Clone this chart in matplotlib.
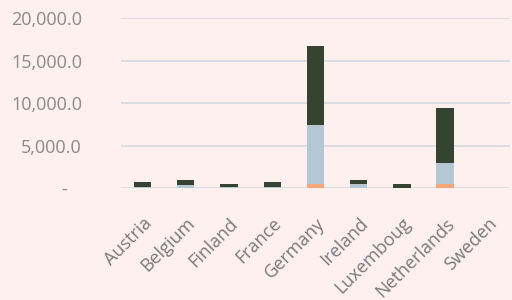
import matplotlib.pyplot as plt
import numpy as np
from matplotlib.ticker import FuncFormatter

countries = ['Austria', 'Belgium', 'Finland', 'France', 'Germany', 'Ireland',
             'Luxemboug', 'Netherlands', 'Sweden']
seg_orange = [20, 30, 20, 20, 500, 30, 20, 500, 0]
seg_blue = [60, 330, 130, 60, 6900, 420, 40, 2400, 0]
seg_dark = [670, 600, 300, 620, 9300, 450, 440, 6500, 0]

bg = '#fdf0ef'
fig = plt.figure(figsize=(5.12, 3.0), dpi=100, facecolor=bg)
ax = fig.add_axes([0.236, 0.373, 0.76, 0.567], facecolor=bg)

x = np.arange(len(countries))
o = np.array(seg_orange)
b = np.array(seg_blue)
d = np.array(seg_dark)
w = 0.4
ax.bar(x, o, w, color='#f5a77a', zorder=3)
ax.bar(x, b, w, bottom=o, color='#b3c8d4', zorder=3)
ax.bar(x, d, w, bottom=o + b, color='#344430', zorder=3)

ax.set_xlim(-0.5, 8.5)
ax.set_ylim(0, 20000)
ax.set_yticks([0, 5000, 10000, 15000, 20000])

def fmt(v, pos):
    if v == 0:
        return '-   '
    return f'{v:,.1f}'
ax.yaxis.set_major_formatter(FuncFormatter(fmt))

ax.grid(axis='y', color='#d9dce2', linewidth=1.3, zorder=0)
for s in ax.spines.values():
    s.set_visible(False)
ax.tick_params(length=0)
ax.tick_params(axis='y', pad=28, labelsize=13, labelcolor='#8a8a8a')
ax.tick_params(axis='x', pad=19)
ax.set_xticks(x)
ax.set_xticklabels(countries, rotation=45, ha='right', rotation_mode='anchor',
                   fontsize=13, color='#7a7a7a', family='Open Sans')
for t in ax.get_yticklabels():
    t.set_family('Open Sans')

fig.savefig('out.png', dpi=100, facecolor=bg)
